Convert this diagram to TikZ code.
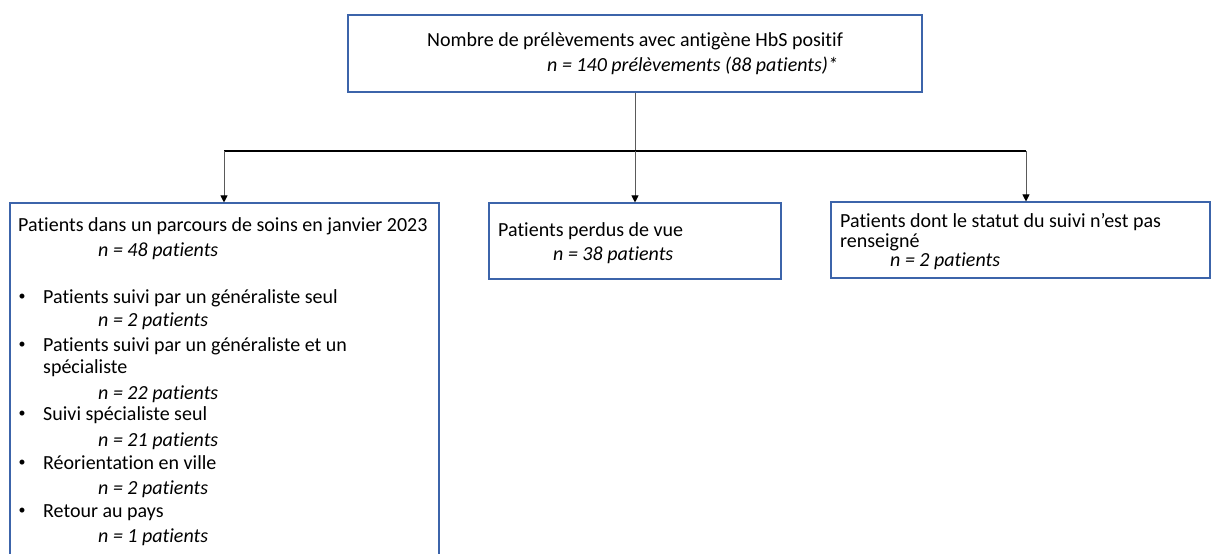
\documentclass[tikz,border=0pt]{standalone}
\usepackage{fontspec}
\setmainfont[Ligatures={NoCommon}]{Carlito}
\usetikzlibrary{arrows.meta}
\definecolor{boxblue}{RGB}{60,100,170}
\definecolor{linegray}{RGB}{90,90,90}
\tikzset{
  boxnode/.style={draw=boxblue, line width=1.1pt, rectangle, inner sep=0pt, fill=white},
  txt/.style={anchor=base west, inner sep=0pt, font=\fontsize{20}{24}\selectfont},
  itxt/.style={txt, font=\fontsize{20}{24}\selectfont\itshape},
  bul/.style={anchor=center, inner sep=0pt, font=\fontsize{14}{14}\selectfont},
  conn/.style={draw=linegray, line width=1pt},
  arr/.style={conn, -{Triangle[length=7pt,width=7pt,color=black]}},
  bar/.style={draw=black, line width=1.4pt}
}
\begin{document}
\begin{tikzpicture}[x=1pt,y=-1pt]
\useasboundingbox (0,0) rectangle (1213,554);
\clip (0,0) rectangle (1213,554);
\fill[white] (0,0) rectangle (1213,554);

% boxes
\node[boxnode, minimum width=574pt, minimum height=77pt] (top) at (635,53.5) {};
\node[boxnode, minimum width=429pt, minimum height=397pt] (left) at (224.5,401.5) {};
\node[boxnode, minimum width=292pt, minimum height=76pt] (mid) at (635,241) {};
\node[boxnode, minimum width=379pt, minimum height=76pt] (right) at (1020.5,240) {};

% connectors
\coordinate (split) at (635,151);
\coordinate (j1) at (224,151);
\coordinate (j3) at (1026,151);
\draw[conn] (top.south) -- (split);
\draw[bar] (j1) -- (j3);
\draw[arr] (j1) -- (j1 |- left.north);
\draw[arr] (split) -- (mid.north);
\draw[arr] (j3) -- (j3 |- right.north);

% top box text
\node[txt, anchor=base] (t1) at (635,46) {Nombre de prélèvements avec antigène HbS positif};
\node[itxt] (t2) at (547,71) {n = 140 prélèvements (88 patients)*};

% left box text
\node[txt] (l1) at (18,231) {Patients dans un parcours de soins en janvier 2023};
\node[itxt] (l2) at (98,256) {n = 48 patients};
\node[bul] (b1) at (22,297) {•};
\node[txt] (l3) at (43,303) {Patients suivi par un généraliste seul};
\node[itxt] (l4) at (98,326) {n = 2 patients};
\node[bul] (b2) at (22,345) {•};
\node[txt] (l5) at (43,351) {Patients suivi par un généraliste et un};
\node[txt] (l6) at (43,373) {spécialiste};
\node[itxt] (l7) at (98,399) {n = 22 patients};
\node[bul] (b3) at (22,414) {•};
\node[txt] (l8) at (43,420) {Suivi spécialiste seul};
\node[itxt] (l9) at (98,446) {n = 21 patients};
\node[bul] (b4) at (22,463) {•};
\node[txt] (l10) at (43,469) {Réorientation en ville};
\node[itxt] (l11) at (98,494) {n = 2 patients};
\node[bul] (b5) at (22,511) {•};
\node[txt] (l12) at (43,517) {Retour au pays};
\node[itxt] (l13) at (98,542) {n = 1 patients};

% middle box text
\node[txt] (m1) at (498,236) {Patients perdus de vue};
\node[itxt] (m2) at (553,260) {n = 38 patients};

% right box text
\node[txt] (r1) at (840,227) {Patients dont le statut du suivi n’est pas};
\node[txt] (r2) at (840,247) {renseigné};
\node[itxt] (r3) at (890,266) {n = 2 patients};
\end{tikzpicture}
\end{document}
